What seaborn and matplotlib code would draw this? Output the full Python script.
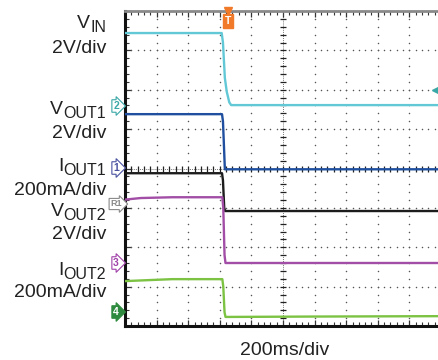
import numpy as np
import pandas as pd
import matplotlib
matplotlib.use("Agg")
import matplotlib.pyplot as plt
import seaborn as sns

sns.set_style("white")
plt.rcParams['font.family'] = ['Liberation Sans', 'DejaVu Sans']

# scope traces, in divisions (x: 0..10 time div, y: 0..8 vertical div)
vin_t = [0, 3.06, 3.10, 3.16, 3.22, 3.30, 3.36, 10]
vin_v = [7.44, 7.44, 7.20, 6.30, 5.95, 5.68, 5.61, 5.61]

vout1_t = [0, 3.07, 3.10, 3.13, 3.16, 10]
vout1_v = [5.38, 5.38, 5.20, 4.60, 3.98, 3.98]

iout1_t = [0, 3.07, 3.10, 3.14, 3.17, 10]
iout1_v = [3.88, 3.88, 3.70, 3.00, 2.92, 2.92]

vout2_t = [0, 0.5, 1.5, 3.08, 3.11, 3.15, 3.18, 10]
vout2_v = [3.21, 3.25, 3.27, 3.27, 3.00, 1.80, 1.60, 1.60]

iout2_t = [0, 0.6, 1.5, 3.08, 3.11, 3.15, 3.18, 6.0, 10]
iout2_v = [1.14, 1.16, 1.19, 1.19, 1.00, 0.35, 0.23, 0.24, 0.25]

channels = ["VIN", "VOUT1", "IOUT1", "VOUT2", "IOUT2"]
colors = {"VIN": "#62c8d6", "VOUT1": "#1f4f9e", "IOUT1": "#1c1c1c",
          "VOUT2": "#a24ea6", "IOUT2": "#7cc243"}

traces = [(vin_t, vin_v), (vout1_t, vout1_v), (iout1_t, iout1_v),
          (vout2_t, vout2_v), (iout2_t, iout2_v)]
rows = []
for name, (t, v) in zip(channels, traces):
    for a, b in zip(t, v):
        rows.append({"t": a, "v": b, "ch": name})
df = pd.DataFrame(rows)

fig = plt.figure(figsize=(4.38, 3.6), dpi=100)
W, H = 438, 360
ax = fig.add_axes([125 / W, (H - 326) / H, 316 / W, 315 / H])
ax.set_xlim(0, 10)
ax.set_ylim(0, 8)

# graticule dots
for i in range(1, 10):
    if i == 5:
        continue
    yy = np.arange(0.2, 8, 0.2)
    ax.scatter(np.full_like(yy, i), yy, s=1.2, color="#555555", lw=0, zorder=1)
for j in range(1, 8):
    if j == 4:
        continue
    xx = np.arange(0.2, 10, 0.2)
    ax.scatter(xx, np.full_like(xx, j), s=1.2, color="#555555", lw=0, zorder=1)
# center axes with ticks
ax.plot([5, 5], [0, 8], color="#444444", lw=0.6, ls=(0, (1, 1.5)), zorder=1)
ax.plot([0, 10], [4, 4], color="#444444", lw=0.6, ls=(0, (1, 1.5)), zorder=1)
yy = np.arange(0.2, 8, 0.2)
ax.plot(np.full_like(yy, 5), yy, ls="none", marker="_", ms=5, mew=0.9, color="#222222", zorder=1)
xx = np.arange(0.2, 10, 0.2)
ax.plot(xx, np.full_like(xx, 4), ls="none", marker="|", ms=5, mew=0.9, color="#222222", zorder=1)

sns.lineplot(data=df, x="t", y="v", hue="ch", palette=colors, sort=False,
             estimator=None, linewidth=1.7, legend=False, ax=ax, zorder=3)

ax.set_xlabel("")
ax.set_ylabel("")
ax.set_xticks(np.arange(0, 11, 1))
ax.set_yticks(np.arange(0, 9, 1))
ax.set_xticks(np.arange(0, 10.01, 0.2), minor=True)
ax.set_yticks(np.arange(0, 8.01, 0.2), minor=True)
ax.tick_params(which="both", direction="in", labelleft=False, labelbottom=False,
               top=True, left=True, bottom=True, right=False, color="#333333")
ax.tick_params(which="major", length=4, width=0.9)
ax.tick_params(which="minor", length=3, width=0.8)
ax.spines["left"].set_linewidth(2.2)
ax.spines["bottom"].set_linewidth(2.2)
ax.spines["left"].set_color("#111111")
ax.spines["bottom"].set_color("#111111")
ax.spines["top"].set_linewidth(2.0)
ax.spines["top"].set_color("#8a8a8a")
ax.spines["right"].set_visible(False)

def px(x, y):
    return x / W, 1 - y / H

renderer = fig.canvas.get_renderer()

# channel names: main letter + larger-than-mathtext subscript
names = [("V", "IN", 28), ("V", "OUT1", 114), ("I", "OUT1", 171),
         ("V", "OUT2", 216), ("I", "OUT2", 275)]
for main, sub, yb in names:
    t_sub = fig.text(*px(106, yb + 4), sub, ha="right", va="baseline",
                     fontsize=11.5, color="#222222")
    bb = t_sub.get_window_extent(renderer)
    fig.text(bb.x0 / W, 1 - yb / H, main, ha="right", va="baseline",
             fontsize=14, color="#222222")

scales = [("2V/div", 53), ("2V/div", 138), ("200mA/div", 195),
          ("2V/div", 239), ("200mA/div", 297)]
for txt, yb in scales:
    fig.text(*px(106, yb), txt, ha="right", va="baseline", fontsize=14, color="#222222")

fig.text(*px(285, 355), "200ms/div", ha="center", va="baseline", fontsize=14, color="#222222")

# channel markers
markers = [("2", 106, "#3aa8a6", "white"), ("1", 168, "#4a52a0", "white"),
           ("R1", 204, "#8a8a8a", "white"), ("3", 263, "#a040a8", "white"),
           ("4", 312, "#2e8a3e", None)]
for lab, yc, col, face in markers:
    if face is None:
        fig.text(*px(116, yc), lab, ha="center", va="center", fontsize=7.5,
                 color="white", fontweight="bold",
                 bbox=dict(boxstyle="rarrow,pad=0.12", fc=col, ec=col, lw=0.8))
    else:
        fig.text(*px(116, yc), lab, ha="center", va="center",
                 fontsize=6.5 if lab == "R1" else 7.5,
                 color=col, fontweight="bold",
                 bbox=dict(boxstyle="rarrow,pad=0.12", fc=face, ec=col, lw=0.8))

# trigger marker
fig.text(*px(228, 21), "T", ha="center", va="center", fontsize=7.5, color="white",
         fontweight="bold", bbox=dict(boxstyle="square,pad=0.15", fc="#f07a2a", ec="#f07a2a"))
ax.plot([(228 - 125) / 31.6], [8.0], marker="v", ms=6, color="#f07a2a", clip_on=False, zorder=5)
# VIN level marker on the right
ax.plot([(437 - 125) / 31.6], [6.0], marker="<", ms=7, color="#3aa8a6", clip_on=False, zorder=5)

fig.savefig("out.png", dpi=100)
